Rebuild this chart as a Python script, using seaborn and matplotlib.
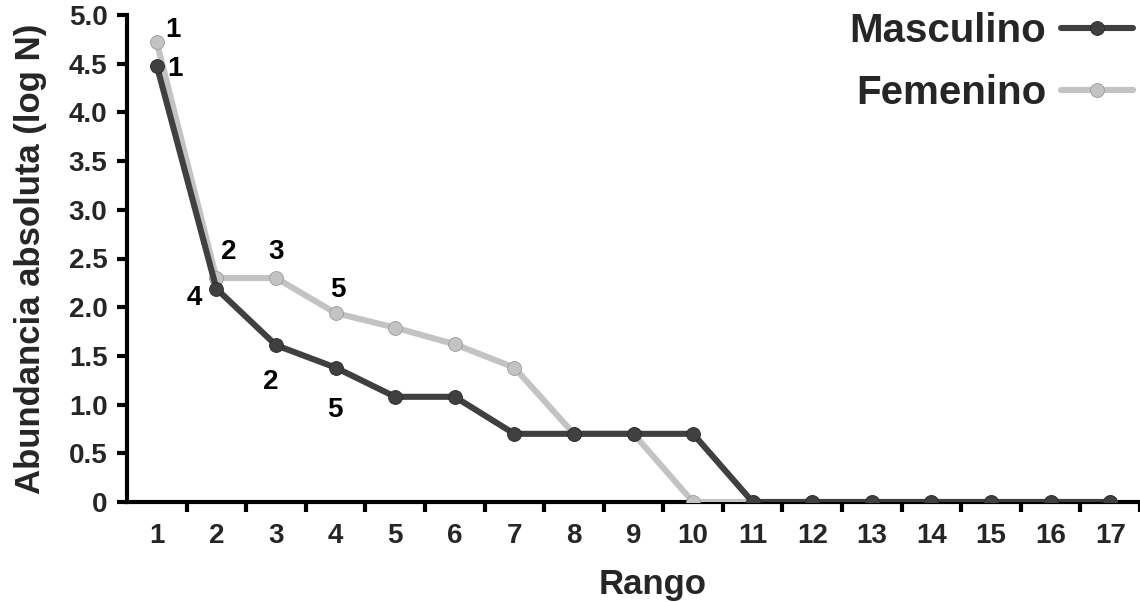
import matplotlib
matplotlib.use("Agg")
import matplotlib.pyplot as plt
import seaborn as sns
import pandas as pd
import numpy as np

# ---- data ----
rango = list(range(1, 18))
masculino = [4.48, 2.19, 1.61, 1.38, 1.08, 1.08, 0.70, 0.70, 0.70, 0.70,
             0, 0, 0, 0, 0, 0, 0]
femenino = [4.72, 2.30, 2.30, 1.94, 1.79, 1.62, 1.38, 0.70, 0.70, 0,
            0, 0, 0, 0, 0, 0, 0]
series_names = ["Masculino", "Femenino"]
y_ticks = [0, 0.5, 1.0, 1.5, 2.0, 2.5, 3.0, 3.5, 4.0, 4.5, 5.0]
y_ticklabels = ["0", "0.5", "1.0", "1.5", "2.0", "2.5", "3.0", "3.5", "4.0", "4.5", "5.0"]
x_ticklabels = [str(r) for r in rango]
# annotations: (rank, text)
annot_masc = [(1, "1"), (2, "4"), (3, "2"), (4, "5")]
annot_fem = [(1, "1"), (2, "2"), (3, "3"), (4, "5")]

sns.set_theme(style="white")
plt.rcParams['font.family'] = ['Liberation Sans', 'DejaVu Sans']
plt.rcParams['font.weight'] = 'bold'

df_m = pd.DataFrame({"Rango": rango, "val": masculino})
df_f = pd.DataFrame({"Rango": rango, "val": femenino})

fig = plt.figure(figsize=(11.4, 6.02), dpi=100)
ax = fig.add_axes([127 / 1140, 100 / 602, 1 - 127 / 1140, (502 - 15) / 602])

dark = "#404040"
light = "#c3c3c3"

sns.lineplot(data=df_f, x="Rango", y="val", ax=ax, color=light, lw=4.4,
             marker="o", markersize=10, markeredgecolor="#9a9a9a",
             markeredgewidth=0.6, label=series_names[1], zorder=3)
sns.lineplot(data=df_m, x="Rango", y="val", ax=ax, color=dark, lw=4.4,
             marker="o", markersize=10, markeredgecolor="#2a2a2a",
             markeredgewidth=0.6, label=series_names[0], zorder=4)

ax.set_xlim(0.5, 17.44)
ax.set_ylim(0, 5.0)

for s in ["top", "right"]:
    ax.spines[s].set_visible(False)
for s in ["left", "bottom"]:
    ax.spines[s].set_linewidth(3)
    ax.spines[s].set_color("black")
    ax.spines[s].set_zorder(2)

ax.set_yticks(y_ticks)
ax.set_yticklabels(y_ticklabels, fontsize=20, fontweight="bold")
ax.set_xticks(rango)
ax.set_xticklabels(x_ticklabels, fontsize=20, fontweight="bold")
ax.set_xticks(np.arange(1.5, 18, 1.0), minor=True)
ax.tick_params(axis="x", which="major", length=0, pad=15)
ax.tick_params(axis="x", which="minor", length=7, width=3, color="black",
               direction="out", bottom=True)
ax.tick_params(axis="y", which="major", length=7, width=3, color="black",
               direction="out", left=True, pad=7)
ax.grid(False)

ax.set_xlabel("Rango", fontsize=25, fontweight="bold")
ax.xaxis.set_label_coords((653 - 127) / 1013, -0.135)
ax.set_ylabel("Abundancia absoluta (log N)", fontsize=25, fontweight="bold")
ax.yaxis.set_label_coords(-0.079, 0.5)

masc_off = {1: (18, -3), 2: (-22, -9), 3: (-5, -37), 4: (-1, -42)}
fem_off = {1: (16, 12), 2: (12, 26), 3: (0, 26), 4: (2, 23)}
for r, t in annot_masc:
    ax.annotate(t, xy=(r, masculino[r - 1]), xytext=masc_off[r],
                textcoords="offset pixels", ha="center", va="center",
                fontsize=20, fontweight="bold", color="black", zorder=6)
for r, t in annot_fem:
    ax.annotate(t, xy=(r, femenino[r - 1]), xytext=fem_off[r],
                textcoords="offset pixels", ha="center", va="center",
                fontsize=20, fontweight="bold", color="black", zorder=6)

handles, labels = ax.get_legend_handles_labels()
if ax.get_legend() is not None:
    ax.get_legend().remove()
order = [labels.index(n) for n in series_names]
leg = fig.legend([handles[i] for i in order], [labels[i] for i in order],
                 loc="upper right", bbox_to_anchor=(1133 / 1140, 1 - 12 / 602),
                 frameon=False, markerfirst=False, handlelength=1.8,
                 handletextpad=0.35, labelspacing=0.6, borderpad=0,
                 borderaxespad=0, prop={"weight": "bold", "size": 29},
                 numpoints=1)

fig.savefig("out.png", dpi=100)
